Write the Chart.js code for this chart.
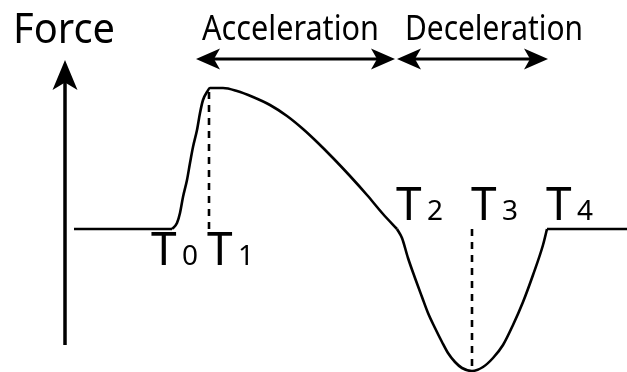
<!DOCTYPE html>
<html>
<head>
<meta charset="utf-8">
<script src="https://cdn.jsdelivr.net/npm/chart.js@4.4.0/dist/chart.umd.min.js"></script>
<style>
  html, body { margin: 0; padding: 0; background: #fff; }
  #wrap { width: 627px; height: 372px; }
</style>
</head>
<body>
<div id="wrap"><canvas id="force"></canvas></div>
<script>
// time / force values (arbitrary units, baseline force = 0)
var baseTime = [8, 106];
var baseForce = [0, 0];

var pulseTime = [106, 111, 114, 117, 121, 124, 127, 131, 134, 137, 141, 144, 157, 171, 187, 204, 221, 237, 251, 267, 284, 301, 317, 331];
var pulseForce = [0, 6, 16, 32, 49, 66, 82, 99, 116, 129, 137, 141, 141, 138, 132, 124, 113, 100, 87, 71, 53, 34, 15, 0];

var dipTime = [331, 336, 342, 349, 356, 362, 369, 376, 382, 389, 396, 406, 417, 427, 437, 447, 457, 467, 477, 481];
var dipForce = [0, -9, -29, -49, -68, -84, -99, -113, -124, -133, -139, -142, -138, -129, -116, -96, -73, -46, -16, 0];

var tailTime = [481, 561];
var tailForce = [0, 0];

var markerNames = ['T', 'T', 'T', 'T', 'T'];
var markerIdx = ['0', '1', '2', '3', '4'];
var markerTime = [86, 142, 331, 406, 481];

var peakTime = 143, peakForce = 139;
var troughTime = 406, troughForce = -139;

var phaseLabels = ['Acceleration', 'Deceleration'];
var phaseStart = [130, 331];
var phaseEnd = [329, 482];

function pts(xs, ys) {
    return xs.map(function (x, i) { return { x: x, y: ys[i] }; });
}

function curve(xs, ys) {
    return {
        data: pts(xs, ys),
        borderColor: '#000',
        borderWidth: 2.6,
        pointRadius: 0,
        cubicInterpolationMode: 'monotone',
        clip: false
    };
}

function dashed(x, y0, y1) {
    return {
        data: pts([x, x], [y0, y1]),
        borderColor: '#000',
        borderWidth: 2.6,
        borderDash: [7, 6],
        pointRadius: 0,
        clip: false
    };
}

function head(ctx, tx, ty, dx, dy, len, half) {
    var notch = len * 0.75;
    var px = -dy, py = dx;
    ctx.beginPath();
    ctx.moveTo(tx, ty);
    ctx.lineTo(tx - dx * len + px * half, ty - dy * len + py * half);
    ctx.lineTo(tx - dx * notch, ty - dy * notch);
    ctx.lineTo(tx - dx * len - px * half, ty - dy * len - py * half);
    ctx.closePath();
    ctx.fill();
}

var decor = {
    id: 'decor',
    afterDatasetsDraw: function (chart) {
        var ctx = chart.ctx, xs = chart.scales.x, ys = chart.scales.y;
        ctx.save();
        ctx.fillStyle = '#000';
        ctx.strokeStyle = '#000';

        // force axis arrow
        var ax = xs.getPixelForValue(-1);
        ctx.lineWidth = 3.5;
        ctx.beginPath();
        ctx.moveTo(ax, ys.getPixelForValue(-116));
        ctx.lineTo(ax, ys.getPixelForValue(169) + 22);
        ctx.stroke();
        head(ctx, ax, ys.getPixelForValue(169), 0, -1, 30, 12.5);

        // phase arrows
        var ay = ys.getPixelForValue(170);
        ctx.lineWidth = 3.2;
        for (var i = 0; i < phaseLabels.length; i++) {
            var a = xs.getPixelForValue(phaseStart[i]);
            var b = xs.getPixelForValue(phaseEnd[i]);
            ctx.beginPath();
            ctx.moveTo(a + 18, ay);
            ctx.lineTo(b - 18, ay);
            ctx.stroke();
            head(ctx, a, ay, -1, 0, 24, 10.5);
            head(ctx, b, ay, 1, 0, 24, 10.5);
        }

        ctx.textBaseline = 'alphabetic';
        ctx.textAlign = 'left';
        ctx.font = '41px "Noto Sans"';
        ctx.fillText('Force', 13, 43, 102);

        ctx.font = '34px "Noto Sans"';
        ctx.fillText(phaseLabels[0], 202, 40, 177);
        ctx.fillText(phaseLabels[1], 405, 40, 178);

        for (var k = 0; k < markerNames.length; k++) {
            var mx = xs.getPixelForValue(markerTime[k]);
            var my = k < 2 ? 265 : 220;
            ctx.font = '46px "Noto Sans"';
            ctx.fillText(markerNames[k], mx - 1, my, 27);
            ctx.font = '28px "Noto Sans"';
            ctx.fillText(markerIdx[k], mx + 30, my, 16);
        }
        ctx.restore();
    }
};

new Chart(document.getElementById('force'), {
    type: 'line',
    data: {
        datasets: [
            curve(baseTime, baseForce),
            curve(pulseTime, pulseForce),
            curve(dipTime, dipForce),
            curve(tailTime, tailForce),
            dashed(peakTime, 0, peakForce),
            dashed(troughTime, 0, troughForce)
        ]
    },
    options: {
        responsive: true,
        maintainAspectRatio: false,
        animation: false,
        layout: { padding: 0 },
        plugins: { legend: { display: false }, tooltip: { enabled: false } },
        scales: {
            x: { type: 'linear', min: -66, max: 561, display: false },
            y: { type: 'linear', min: -143, max: 229, display: false }
        }
    },
    plugins: [decor]
});
</script>
</body>
</html>
